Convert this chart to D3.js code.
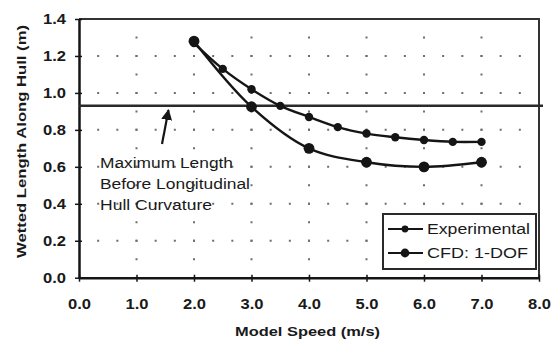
<!DOCTYPE html>
<html>
<head>
<meta charset="utf-8">
<script src="https://cdn.jsdelivr.net/npm/d3@7/dist/d3.min.js"></script>
<style>
  html, body { margin: 0; padding: 0; background: #fff; }
  svg { display: block; }
  text { font-family: Arial, "Liberation Sans", sans-serif; fill: #1a1a1a; }
</style>
</head>
<body>
<svg id="chart" width="553" height="339"></svg>
<script>
// Wetted length along the hull versus model speed
const expSpeed = [2.0, 2.5, 3.0, 3.5, 4.0, 4.5, 5.0, 5.5, 6.0, 6.5, 7.0];
const expLength = [1.27, 1.13, 1.02, 0.93, 0.87, 0.815, 0.78, 0.76, 0.745, 0.735, 0.735];
const cfdSpeed = [2.0, 3.0, 4.0, 5.0, 6.0, 7.0];
const cfdLength = [1.28, 0.925, 0.70, 0.625, 0.60, 0.625];
const maxLength = 0.93;
const xTicks = [0, 1, 2, 3, 4, 5, 6, 7, 8];
const yTicks = [0, 0.2, 0.4, 0.6, 0.8, 1.0, 1.2, 1.4];
const seriesNames = ["Experimental", "CFD: 1-DOF"];
const noteLines = ["Maximum Length", "Before Longitudinal", "Hull Curvature"];

const svg = d3.select("#chart");
const pLeft = 79, pRight = 539, pTop = 19, pBottom = 277.7;
const x = d3.scaleLinear().domain([0, 8]).range([pLeft, pRight]);
const y = d3.scaleLinear().domain([0, 1.4]).range([pBottom, pTop]);
const ink = "#151515";

// wide-set lettering: stretch a text element to a given width
function widen(sel, w) {
  sel.attr("textLength", w).attr("lengthAdjust", "spacingAndGlyphs");
}

// dotted grid
const gx = (x(1) - x(0)) / 3, gy = (y(0) - y(0.1));
svg.append("g").selectAll("line").data(yTicks.slice(1)).join("line")
  .attr("x1", pLeft).attr("x2", pRight).attr("y1", d => y(d)).attr("y2", d => y(d))
  .attr("stroke", "#6e6e6e").attr("stroke-width", 2)
  .attr("stroke-dasharray", `2,${gx - 2}`).attr("stroke-dashoffset", 1);
svg.append("g").selectAll("line").data(xTicks.slice(1, -1)).join("line")
  .attr("x1", d => x(d)).attr("x2", d => x(d)).attr("y1", pBottom).attr("y2", pTop)
  .attr("stroke", "#6e6e6e").attr("stroke-width", 2)
  .attr("stroke-dasharray", `2,${gy - 2}`).attr("stroke-dashoffset", 1);

// plot frame (top and right)
svg.append("path")
  .attr("d", `M${pLeft},${pTop}H${pRight}V${pBottom}`)
  .attr("fill", "none").attr("stroke", "#333").attr("stroke-width", 2);

// axes
const xAxis = d3.axisBottom(x).tickValues(xTicks).tickFormat(d3.format(".1f"))
  .tickSizeInner(4).tickSizeOuter(0).tickPadding(17);
const gX = svg.append("g").attr("transform", `translate(0,${pBottom})`).call(xAxis);
const yAxis = d3.axisLeft(y).tickValues(yTicks).tickFormat(d3.format(".1f"))
  .tickSizeInner(4).tickSizeOuter(0).tickPadding(9);
const gY = svg.append("g").attr("transform", `translate(${pLeft},0)`).call(yAxis);
[gX, gY].forEach(g => {
  g.select(".domain").attr("stroke", ink).attr("stroke-width", 2.5);
  g.selectAll(".tick line").attr("stroke", ink).attr("stroke-width", 1.5);
  g.selectAll(".tick text").attr("font-size", 14).attr("font-weight", "bold")
    .attr("fill", "#222").style("font-family", "Arial, 'Liberation Sans', sans-serif")
    .call(widen, 23);
});
gX.selectAll(".tick line").attr("y1", -3);
gY.selectAll(".tick line").attr("x1", 3);

// axis titles
svg.append("text").attr("x", 235).attr("y", 336)
  .attr("font-size", 12.5).attr("font-weight", "bold")
  .text("Model Speed (m/s)").call(widen, 145);
svg.append("text").attr("transform", `translate(26,258) rotate(-90)`)
  .attr("font-size", 12.5).attr("font-weight", "bold")
  .text("Wetted Length Along Hull (m)").call(widen, 233);

// maximum length reference line
svg.append("line").attr("x1", pLeft).attr("x2", pRight + 4)
  .attr("y1", y(maxLength)).attr("y2", y(maxLength))
  .attr("stroke", "#2a2a2a").attr("stroke-width", 2.5);

// annotation
const noteWidths = [133, 150, 112];
svg.append("text").attr("font-size", 14)
  .selectAll("tspan").data(noteLines).join("tspan")
  .attr("x", 100).attr("y", (d, i) => 168 + i * 21).text(d => d)
  .attr("textLength", (d, i) => noteWidths[i]).attr("lengthAdjust", "spacingAndGlyphs");
svg.append("defs").append("marker").attr("id", "head")
  .attr("viewBox", "0 0 10 10").attr("refX", 9).attr("refY", 5)
  .attr("markerWidth", 5).attr("markerHeight", 5).attr("orient", "auto")
  .append("path").attr("d", "M0,0L10,5L0,10Z").attr("fill", ink);
svg.append("line").attr("x1", 162).attr("y1", 144).attr("x2", 168.5).attr("y2", 110)
  .attr("stroke", ink).attr("stroke-width", 2.2).attr("marker-end", "url(#head)");

// series
const line = d3.line().x(d => x(d[0])).y(d => y(d[1])).curve(d3.curveCatmullRom.alpha(0.5));
const series = [
  { pts: d3.zip(expSpeed, expLength), r: 4.2 },
  { pts: d3.zip(cfdSpeed, cfdLength), r: 5.4 }
];
series.forEach(s => {
  svg.append("path").datum(s.pts).attr("d", line)
    .attr("fill", "none").attr("stroke", ink).attr("stroke-width", 2.4);
  svg.append("g").selectAll("circle").data(s.pts).join("circle")
    .attr("cx", d => x(d[0])).attr("cy", d => y(d[1])).attr("r", s.r).attr("fill", ink);
});

// legend
const lg = svg.append("g");
lg.append("rect").attr("x", 383).attr("y", 214).attr("width", 153).attr("height", 55)
  .attr("fill", "#fff").attr("stroke", "#2a2a2a").attr("stroke-width", 2);
const legendWidths = [103, 101];
seriesNames.forEach((name, i) => {
  const cy = 229 + i * 24;
  lg.append("line").attr("x1", 388).attr("x2", 423).attr("y1", cy).attr("y2", cy)
    .attr("stroke", ink).attr("stroke-width", 2);
  lg.append("circle").attr("cx", 405).attr("cy", cy).attr("r", i ? 4.4 : 3.4).attr("fill", ink);
  lg.append("text").attr("x", 427).attr("y", cy + 5).attr("font-size", 14).text(name)
    .call(widen, legendWidths[i]);
});
</script>
</body>
</html>
